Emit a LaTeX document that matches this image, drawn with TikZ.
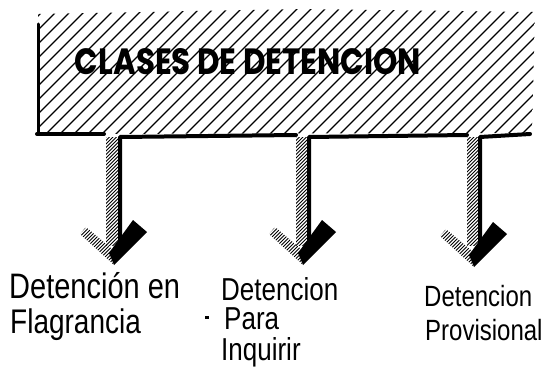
\documentclass[tikz,border=0pt]{standalone}
\usepackage{fontspec}
\setmainfont{Liberation Sans}
\newfontfamily\titlefont{Poppins}
\usepackage{graphicx}
\tikzset{
  hatchline/.style={line width=1.4pt},
  tick/.style={line width=0.9pt},
  edge/.style={line width=4pt},
  lbl/.style={anchor=base west, inner sep=0pt},
  arrowtip/.pic={
    \begin{scope}
      \clip (0,1) -- (-33,-29) -- (-27,-36) -- (-1,-14) -- cycle;
      \foreach \k in {0,...,24} \draw[tick] ({-75+3.5*\k},5) -- ++(40,-40);
    \end{scope}
    \fill (1,2) -- (-4,-10) -- (20,-43) -- (34,-31) -- cycle;
  }
}
\newcommand\hwline[2]{{\fontsize{#1}{#1}\selectfont\scalebox{1}[1.22]{#2}}}
\begin{document}
\begin{tikzpicture}[x=1pt,y=-1pt,line cap=round,line join=round]
\useasboundingbox (0,0) rectangle (546,369);
% main hatched band
\begin{scope}
  \clip (38,14) -- (300,9) -- (535,12) -- (532,133) -- (38,134) -- cycle;
  \foreach \i in {0,...,48} \draw[hatchline] ({-110+14*\i},150) -- ++(150,-150);
\end{scope}
\draw[line width=3pt] (38,24) -- (38,134);
% stems hatch
\foreach \sx in {106,296,467}{
  \begin{scope}
    \clip (\sx,137) rectangle ({\sx+13},245);
    \foreach \k in {0,...,40} \draw[tick] ({\sx-20},{150+3.5*\k}) -- ++(40,-40);
  \end{scope}
}
% bottom line and stem edges
\draw[edge] (37,134) -- (104,134);
\draw[edge] (120,242) -- (120,137) -- (296,135);
\draw[edge] (309,242) -- (309,137) -- (467,135);
\draw[edge] (480,242) -- (480,137) -- (530,134);
% arrow tips
\pic at (113,263) {arrowtip};
\pic at (302,263) {arrowtip};
\pic at (473,265) {arrowtip};
% title
\node (title) at (248,62) {\resizebox{346pt}{26pt}{\titlefont\bfseries CLASES DE DETENCION}};
% labels
\node[lbl] (l1a) at (9,298) {\hwline{29}{Detención en}};
\node[lbl] (l1b) at (10,333) {\hwline{28}{Flagrancia}};
\node[lbl] (l2a) at (221,300) {\hwline{26}{Detencion}};
\node[lbl] (l2b) at (224,329) {\hwline{26}{Para}};
\node[lbl] (l2c) at (221,360) {\hwline{26}{Inquirir}};
\fill (205,316) rectangle (209,318.5);
\node[lbl] (l3a) at (424,306) {\hwline{24}{Detencion}};
\node[lbl] (l3b) at (425,340) {\hwline{24}{Provisional}};
\end{tikzpicture}
\end{document}
